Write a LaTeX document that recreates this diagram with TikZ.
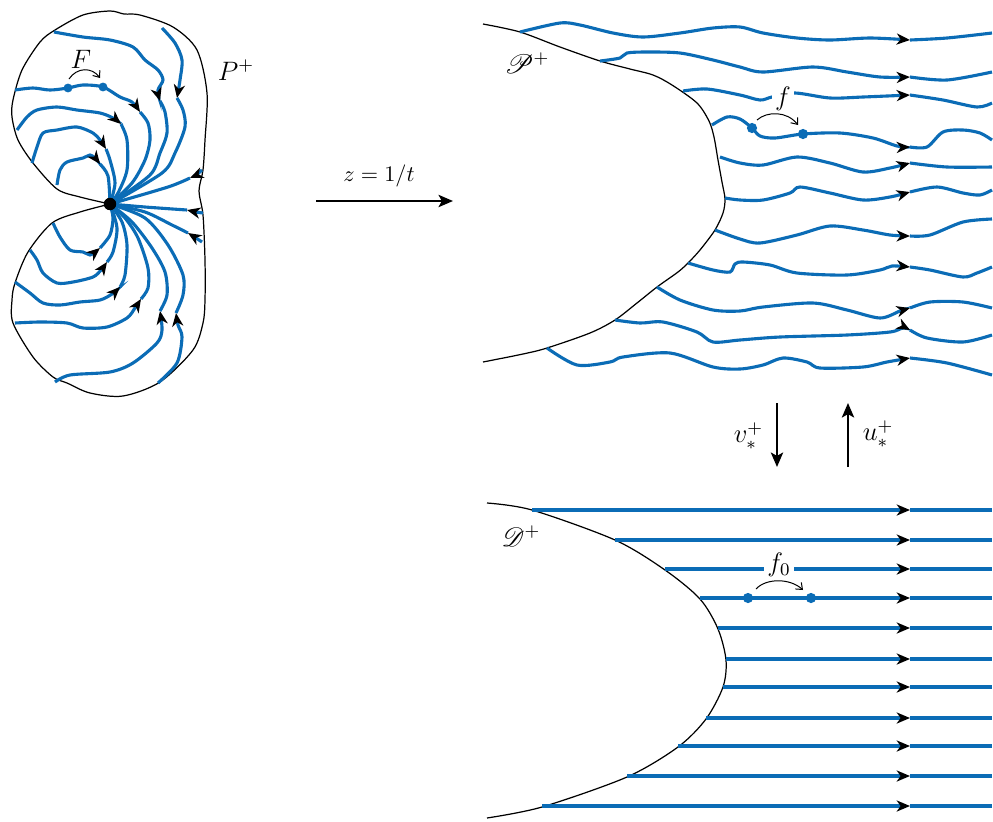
\documentclass[tikz,border=0pt]{standalone}
\usepackage{amsmath}
\usepackage{mathrsfs}
\usetikzlibrary{arrows.meta}
\definecolor{flowBlue}{HTML}{0B6CB6}

\tikzset{
  flowline/.style={flowBlue, line width=1.4pt},
  flowarrow/.style={flowline, -{Stealth[color=black, length=6pt, width=5pt, inset=1.8pt]}},
  rim/.style={black, line width=0.55pt},
  flowdot/.style={circle, fill=flowBlue, inner sep=0pt, minimum size=4.6pt},
  hub/.style={circle, fill=black, inner sep=0pt, minimum size=5.6pt},
  maparrow/.style={line width=1.1pt, -{Stealth[length=6.5pt, width=5.5pt, inset=1.5pt]}},
  shiftarrow/.style={line width=0.45pt, -{Straight Barb[length=2.5pt, width=4pt]}},
  mathlabel/.style={font=\large},
  gaplabel/.style={mathlabel, fill=white, inner sep=1.4pt}
}

% one flow line with an arrow head at the middle point #2
\newcommand{\flowcurve}[3]{%
  \draw[flowarrow] plot[smooth] coordinates {#1 #2};
  \draw[flowline] plot[smooth] coordinates {#2 #3};}

\begin{document}
\begin{tikzpicture}[x=0.45pt, y=-0.45pt]
\useasboundingbox (0,0) rectangle (993,821);

%% left picture: P^+
\coordinate (O) at (110,204);
\draw[rim] plot[smooth] coordinates {(O) (80,197) (57,189) (33,163) (18,140) (12,117)
  (13,100) (22,70) (40,42) (55,30) (83,15) (110,11) (124,14) (140,15) (173,27) (197,50)
  (207,93) (205,140) (203,170) (199,191) (203,215) (205,260) (205,300) (203,323)
  (193,350) (160,382) (123,396) (90,393) (67,383) (53,377) (33,357) (13,323) (12,300)
  (15,283) (28,252) (52,223) (80,212) (O)};

% upper lobe
\flowcurve{(54,32) (83,37) (110,40) (133,47) (145,60) (158,70) (163,80) (158,90)}{(160,101)}{(165,112) (167,133) (160,153) (150,175) (O)}
\flowcurve{(162,28) (175,43) (182,60) (180,80)}{(177,98)}{(183,110) (185,127) (175,153) (162,173) (O)}
\flowcurve{(15,90) (33,88) (50,90) (68,88) (83,85) (103,87) (120,97) (132,102)}{(140,112)}{(148,123) (150,140) (145,160) (132,183) (O)}
\flowcurve{(17,130) (27,117) (37,110) (57,107) (77,110) (100,113) (113,118)}{(121,124)}{(127,140) (127,170) (118,193) (O)}
\flowcurve{(32,163) (37,147) (43,133) (57,130) (77,127) (93,133) (100,140)}{(106,149)}{(110,160) (115,183) (O)}
\flowcurve{(57,185) (60,170) (67,162) (83,158) (90,155) (95,158)}{(100,164)}{(108,176) (O)}
\flowcurve{(202,170) (196,175)}{(190,178)}{(168,187) (O)}

% lower lobe
\flowcurve{(203,213) (196,212)}{(187,210)}{(145,207) (O)}
\flowcurve{(202,242) (196,238)}{(188,233)}{(172,225) (145,212) (O)}
\flowcurve{(53,223) (60,237) (70,250) (83,252) (90,255) (95,252)}{(100,248)}{(110,235) (113,218) (O)}
\flowcurve{(30,250) (37,260) (43,273) (57,283) (73,282) (93,277) (101,270)}{(107,262)}{(113,252) (117,228) (O)}
\flowcurve{(15,282) (30,293) (43,303) (60,305) (80,302) (100,300) (112,294)}{(120,287)}{(125,275) (127,245) (122,222) (O)}
\flowcurve{(15,323) (40,322) (67,323) (83,328) (107,327) (127,318) (135,308)}{(141,299)}{(148,288) (148,268) (138,238) (125,218) (O)}
\flowcurve{(55,382) (70,375) (110,372) (133,363) (157,343) (162,330)}{(160,311)}{(167,295) (165,272) (152,248) (132,222) (O)}
\flowcurve{(158,383) (177,363) (182,337) (178,325)}{(176,313)}{(183,295) (183,275) (168,245) (145,218) (O)}

\node[hub] (hub) at (O) {};
\node[flowdot, minimum size=4pt] (F1) at (68,88) {};
\node[flowdot, minimum size=4pt] (F2) at (103,87) {};
\node[mathlabel] (Flabel) at (81,59) {$F$};
\draw[shiftarrow] (69,79) .. controls (77,67) and (92,67) .. (100,78);
\node[mathlabel] (Plabel) at (236,70) {$P^+$};

%% the map z = 1/t
\coordinate (zs) at (316,201);
\coordinate (ze) at (453,201);
\draw[maparrow] (zs) -- (ze);
\node (maplabel) at (379,176) {$z=1/t$};

%% upper right picture: script P^+
\draw[rim] plot[smooth] coordinates {(483,24) (520,32) (560,47) (600,61) (630,69)
  (653,75) (672,85) (697,103) (709,121) (714,137) (718,160) (722,182) (725,199)
  (723,213) (715,230) (700,250) (688,263) (678,272) (657,287) (637,303) (615,320)
  (590,333) (547,348) (523,354) (483,362)};

\flowcurve{(520,32) (560,23) (580,25) (613,33) (643,37) (680,33) (713,28) (740,27) (763,33) (797,38) (830,40) (870,38)}{(910,40)}{(947,38) (992,33)}
\flowcurve{(600,61) (620,58) (627,53) (647,52) (680,53) (713,60) (740,67) (763,72) (813,67) (847,72) (880,77)}{(910,77)}{(947,80) (992,72)}
\flowcurve{(683,91) (707,89) (740,95) (760,100) (772,97) (795,93) (830,98) (863,97)}{(910,95)}{(943,100) (977,107) (992,103)}
\flowcurve{(712,125) (727,117) (740,119) (752,128) (760,136) (775,138) (803,134) (840,133) (873,138) (897,146)}{(910,147)}{(927,147) (943,132) (963,130) (980,133) (992,140)}
\flowcurve{(720,157) (740,163) (763,165) (797,157) (830,163) (863,172) (890,168)}{(910,163)}{(947,167) (992,167)}
\flowcurve{(725,198) (740,200) (763,200) (790,193) (800,187) (830,193) (863,200) (890,197)}{(910,192)}{(937,187) (963,193) (980,195) (992,190)}
\flowcurve{(715,230) (740,239) (760,243) (797,235) (830,226) (863,230) (890,235)}{(910,236)}{(930,235) (963,222) (992,219)}
\flowcurve{(688,263) (713,270) (730,272) (735,264) (743,262) (770,265) (797,273) (847,275) (880,270) (892,266)}{(910,267)}{(930,270) (963,277) (977,273) (992,267)}
\flowcurve{(657,287) (680,300) (713,310) (740,311) (763,307) (813,303) (847,310) (880,318) (900,311)}{(910,308)}{(930,302) (963,302) (992,308)}
\flowcurve{(615,320) (640,323) (663,322) (697,332) (713,342) (740,340) (780,337) (847,335) (890,332) (903,328)}{(910,330)}{(927,338) (963,342) (992,335)}
\flowcurve{(547,348) (577,365) (610,362) (623,357) (670,353) (713,367) (740,369) (763,365) (783,358) (807,362) (820,368) (863,367) (887,362)}{(910,358)}{(947,363) (992,375)}

\node[mathlabel] (Pscr) at (527,63) {$\mathscr{P}^+$};
\node[gaplabel] (flabel) at (783,99) {$f$};
\node[flowdot] (f1) at (752,128) {};
\node[flowdot] (f2) at (803,134) {};
\draw[shiftarrow] (757,120) .. controls (767,111) and (787,111) .. (798,125);

%% conjugacies
\coordinate (vs) at (777,403);
\coordinate (ve) at (777,467);
\coordinate (us) at (848,467);
\coordinate (ue) at (848,403);
\draw[maparrow] (vs) -- (ve);
\draw[maparrow] (us) -- (ue);
\node[mathlabel, anchor=east] (vlabel) at (771,436) {$v_*^+$};
\node[mathlabel, anchor=west] (ulabel) at (855,434) {$u_*^+$};

%% lower right picture: script D^+
\draw[rim] plot[smooth] coordinates {(487,503) (532,510) (615,540) (665,570) (700,599)
  (718,629) (726,660) (723,687) (706,719) (678,747) (627,777) (542,807) (487,818)};
\foreach \x/\y in {532/510, 615/540, 665/569, 700/598, 718/628, 726/659,
                   723/687, 706/718, 678/746, 627/776, 542/806} {
  \draw[flowarrow] (\x,\y) -- (910,\y);
  \draw[flowline] (910,\y) -- (992,\y);
}
\node[mathlabel] (Dscr) at (521,536) {$\mathscr{D}^+$};
\node[gaplabel] (f0label) at (779,565) {$f_0$};
\node[flowdot] (g1) at (748,598) {};
\node[flowdot] (g2) at (811,598) {};
\draw[shiftarrow] (756,589) .. controls (766,578) and (790,578) .. (803,590);
\end{tikzpicture}
\end{document}
